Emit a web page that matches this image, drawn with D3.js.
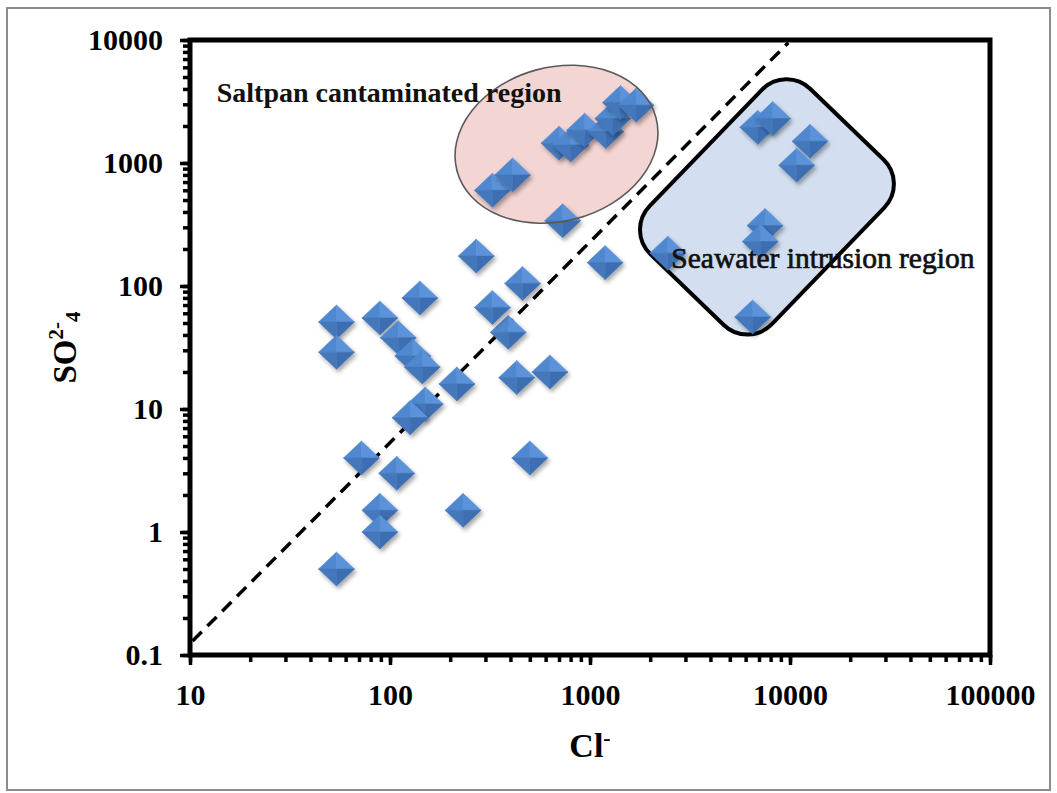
<!DOCTYPE html>
<html>
<head>
<meta charset="utf-8">
<script src="https://cdn.jsdelivr.net/npm/d3@7"></script>
<style>
  body { margin: 0; background: #fff; }
  svg { display: block; font-family: "Liberation Serif", "Times New Roman", serif; }
</style>
</head>
<body>
<svg id="chart"></svg>
<script>
// Cl- against SO4 2-, both on log axes
const clValues  = [54, 54, 54, 72, 89, 110, 141, 130, 145, 216, 150, 126, 108, 89, 89, 232,
                   500, 430, 630, 390, 325, 460, 270, 1190, 730,
                   325, 410, 700, 800, 940, 1200, 1300, 1420, 1700,
                   6900, 8200, 12600, 10800, 7500, 7100, 2450, 6500];
const so4Values = [0.5, 51, 29, 4, 55, 38, 80, 27, 22, 16, 11, 8.5, 3, 1.5, 1, 1.5,
                   4, 18, 20, 42, 67, 105, 175, 155, 340,
                   600, 800, 1450, 1400, 1850, 1800, 2300, 3100, 2950,
                   1950, 2300, 1500, 960, 310, 230, 185, 56];

const xTicks = [10, 100, 1000, 10000, 100000];
const xTickLabels = ["10", "100", "1000", "10000", "100000"];
const yTicks = [0.1, 1, 10, 100, 1000, 10000];
const yTickLabels = ["0.1", "1", "10", "100", "1000", "10000"];

// dashed reference line (end points)
const lineCl = [10.3, 9800];
const lineSO4 = [0.13, 9500];

// annotation anchors, in data units
const saltpanCentre = [680, 1420];
const saltpanLabelAt = [13.6, 3130];
const seawaterCentre = [7670, 440];
const seawaterLabelAt = [2550, 140];

const W = 1057, H = 793;
const margin = {top: 40, right: 67, bottom: 138, left: 190};
const width = W - margin.left - margin.right;   // 800
const height = H - margin.top - margin.bottom;  // 615

const svg = d3.select("#chart")
    .attr("width", W)
    .attr("height", H);

// outer grey frame
svg.append("rect")
    .attr("x", 7)
    .attr("y", 8)
    .attr("width", 1043)
    .attr("height", 782)
    .attr("fill", "#fff")
    .attr("stroke", "#8c8c8c")
    .attr("stroke-width", 2);

const defs = svg.append("defs");
defs.append("filter")
    .attr("id", "shadow")
    .attr("x", "-50%").attr("y", "-50%")
    .attr("width", "200%").attr("height", "200%")
    .append("feDropShadow")
    .attr("dx", 2)
    .attr("dy", 3)
    .attr("stdDeviation", 2)
    .attr("flood-color", "#000")
    .attr("flood-opacity", 0.35);

const g = svg.append("g")
    .attr("transform", `translate(${margin.left},${margin.top})`);

const x = d3.scaleLog().domain([10, 100000]).range([0, width]);
const y = d3.scaleLog().domain([0.1, 10000]).range([height, 0]);

// axes: minor ticks first, then major ticks with labels
function styleAxis(sel) {
    sel.select(".domain").remove();
    sel.selectAll(".tick line").attr("stroke", "#000").attr("stroke-width", 3.5);
    sel.selectAll("text")
        .attr("fill", "#000")
        .style("font-family", "'Liberation Serif', 'Times New Roman', serif")
        .style("font-size", "30px")
        .style("font-weight", "bold");
}

g.append("g")
    .attr("transform", `translate(0,${height})`)
    .call(d3.axisBottom(x).tickValues(x.ticks()).tickSize(7).tickFormat(""))
    .call(styleAxis);
g.append("g")
    .attr("transform", `translate(0,${height})`)
    .call(d3.axisBottom(x).tickValues(xTicks).tickSize(10).tickPadding(19)
        .tickFormat((d, i) => xTickLabels[i]))
    .call(styleAxis);

g.append("g")
    .call(d3.axisLeft(y).tickValues(y.ticks()).tickSize(7).tickFormat(""))
    .call(styleAxis);
g.append("g")
    .call(d3.axisLeft(y).tickValues(yTicks).tickSize(10).tickPadding(17)
        .tickFormat((d, i) => yTickLabels[i]))
    .call(styleAxis);

// region fills go under the points
const sx = x(seawaterCentre[0]), sy = y(seawaterCentre[1]);
const boxW = 230, boxH = 170;
const seawaterBox = g.append("g")
    .attr("transform", `translate(${sx},${sy}) rotate(-46)`);
seawaterBox.append("rect")
    .attr("x", -boxW / 2)
    .attr("y", -boxH / 2)
    .attr("width", boxW)
    .attr("height", boxH)
    .attr("rx", 34)
    .attr("fill", "#d3dff0");

const ellipseTransform = `translate(${x(saltpanCentre[0])},${y(saltpanCentre[1])}) rotate(-15)`;
g.append("ellipse")
    .attr("transform", ellipseTransform)
    .attr("rx", 103)
    .attr("ry", 77)
    .attr("fill", "#f3d5d3");

// dashed line
g.append("line")
    .attr("x1", x(lineCl[0]))
    .attr("y1", y(lineSO4[0]))
    .attr("x2", x(lineCl[1]))
    .attr("y2", y(lineSO4[1]))
    .attr("stroke", "#000")
    .attr("stroke-width", 3.5)
    .attr("stroke-dasharray", "13,8");

// diamond markers with pyramid shading
const points = clValues.map((c, i) => ({cl: c, so4: so4Values[i]}));
const hw = 18, hh = 17;
const faces = [
    {d: `M0,0L${-hw},0L0,${-hh}Z`, fill: "#5088cf"},
    {d: `M0,0L0,${-hh}L${hw},0Z`, fill: "#5b92d9"},
    {d: `M0,0L${hw},0L0,${hh}Z`, fill: "#3c6eb1"},
    {d: `M0,0L0,${hh}L${-hw},0Z`, fill: "#4477bb"}
];

const marks = g.append("g")
    .selectAll("g.pt")
    .data(points)
    .join("g")
    .attr("class", "pt")
    .attr("transform", d => `translate(${x(d.cl)},${y(d.so4)})`)
    .attr("filter", "url(#shadow)");

marks.selectAll("path")
    .data(faces)
    .join("path")
    .attr("d", f => f.d)
    .attr("fill", f => f.fill)
    .attr("stroke", f => f.fill)
    .attr("stroke-width", 0.5);

// ellipse outline over the points
g.append("ellipse")
    .attr("transform", ellipseTransform)
    .attr("rx", 103)
    .attr("ry", 77)
    .attr("fill", "none")
    .attr("stroke", "#5a5a5a")
    .attr("stroke-width", 1.6);

g.append("text")
    .attr("x", x(saltpanLabelAt[0]))
    .attr("y", y(saltpanLabelAt[1]))
    .style("font-size", "28px")
    .style("font-weight", "bold")
    .attr("fill", "#111")
    .text("Saltpan cantaminated region");

g.append("text")
    .attr("x", x(seawaterLabelAt[0]))
    .attr("y", y(seawaterLabelAt[1]))
    .style("font-size", "29.5px")
    .attr("fill", "#111")
    .attr("stroke", "#111")
    .attr("stroke-width", 0.7)
    .text("Seawater intrusion region");

// box outline drawn last
seawaterBox.append("rect")
    .attr("x", -boxW / 2)
    .attr("y", -boxH / 2)
    .attr("width", boxW)
    .attr("height", boxH)
    .attr("rx", 34)
    .attr("fill", "none")
    .attr("stroke", "#000")
    .attr("stroke-width", 4);

// plot frame
g.append("rect")
    .attr("width", width)
    .attr("height", height)
    .attr("fill", "none")
    .attr("stroke", "#000")
    .attr("stroke-width", 5);

// axis titles
const xTitle = svg.append("text")
    .attr("x", margin.left + width / 2)
    .attr("y", 757)
    .attr("text-anchor", "middle")
    .style("font-size", "34px")
    .style("font-weight", "bold");
xTitle.append("tspan").text("Cl");
xTitle.append("tspan").attr("dy", -12).style("font-size", "22px").text("-");

const yTitle = svg.append("text")
    .attr("transform", `translate(76,${margin.top + height / 2}) rotate(-90)`)
    .attr("text-anchor", "middle")
    .style("font-size", "33px")
    .style("font-weight", "bold");
yTitle.append("tspan").text("SO");
yTitle.append("tspan").attr("dy", -13).style("font-size", "21px").text("2-");
yTitle.append("tspan").attr("dy", 17).style("font-size", "21px").text("4");
</script>
</body>
</html>
